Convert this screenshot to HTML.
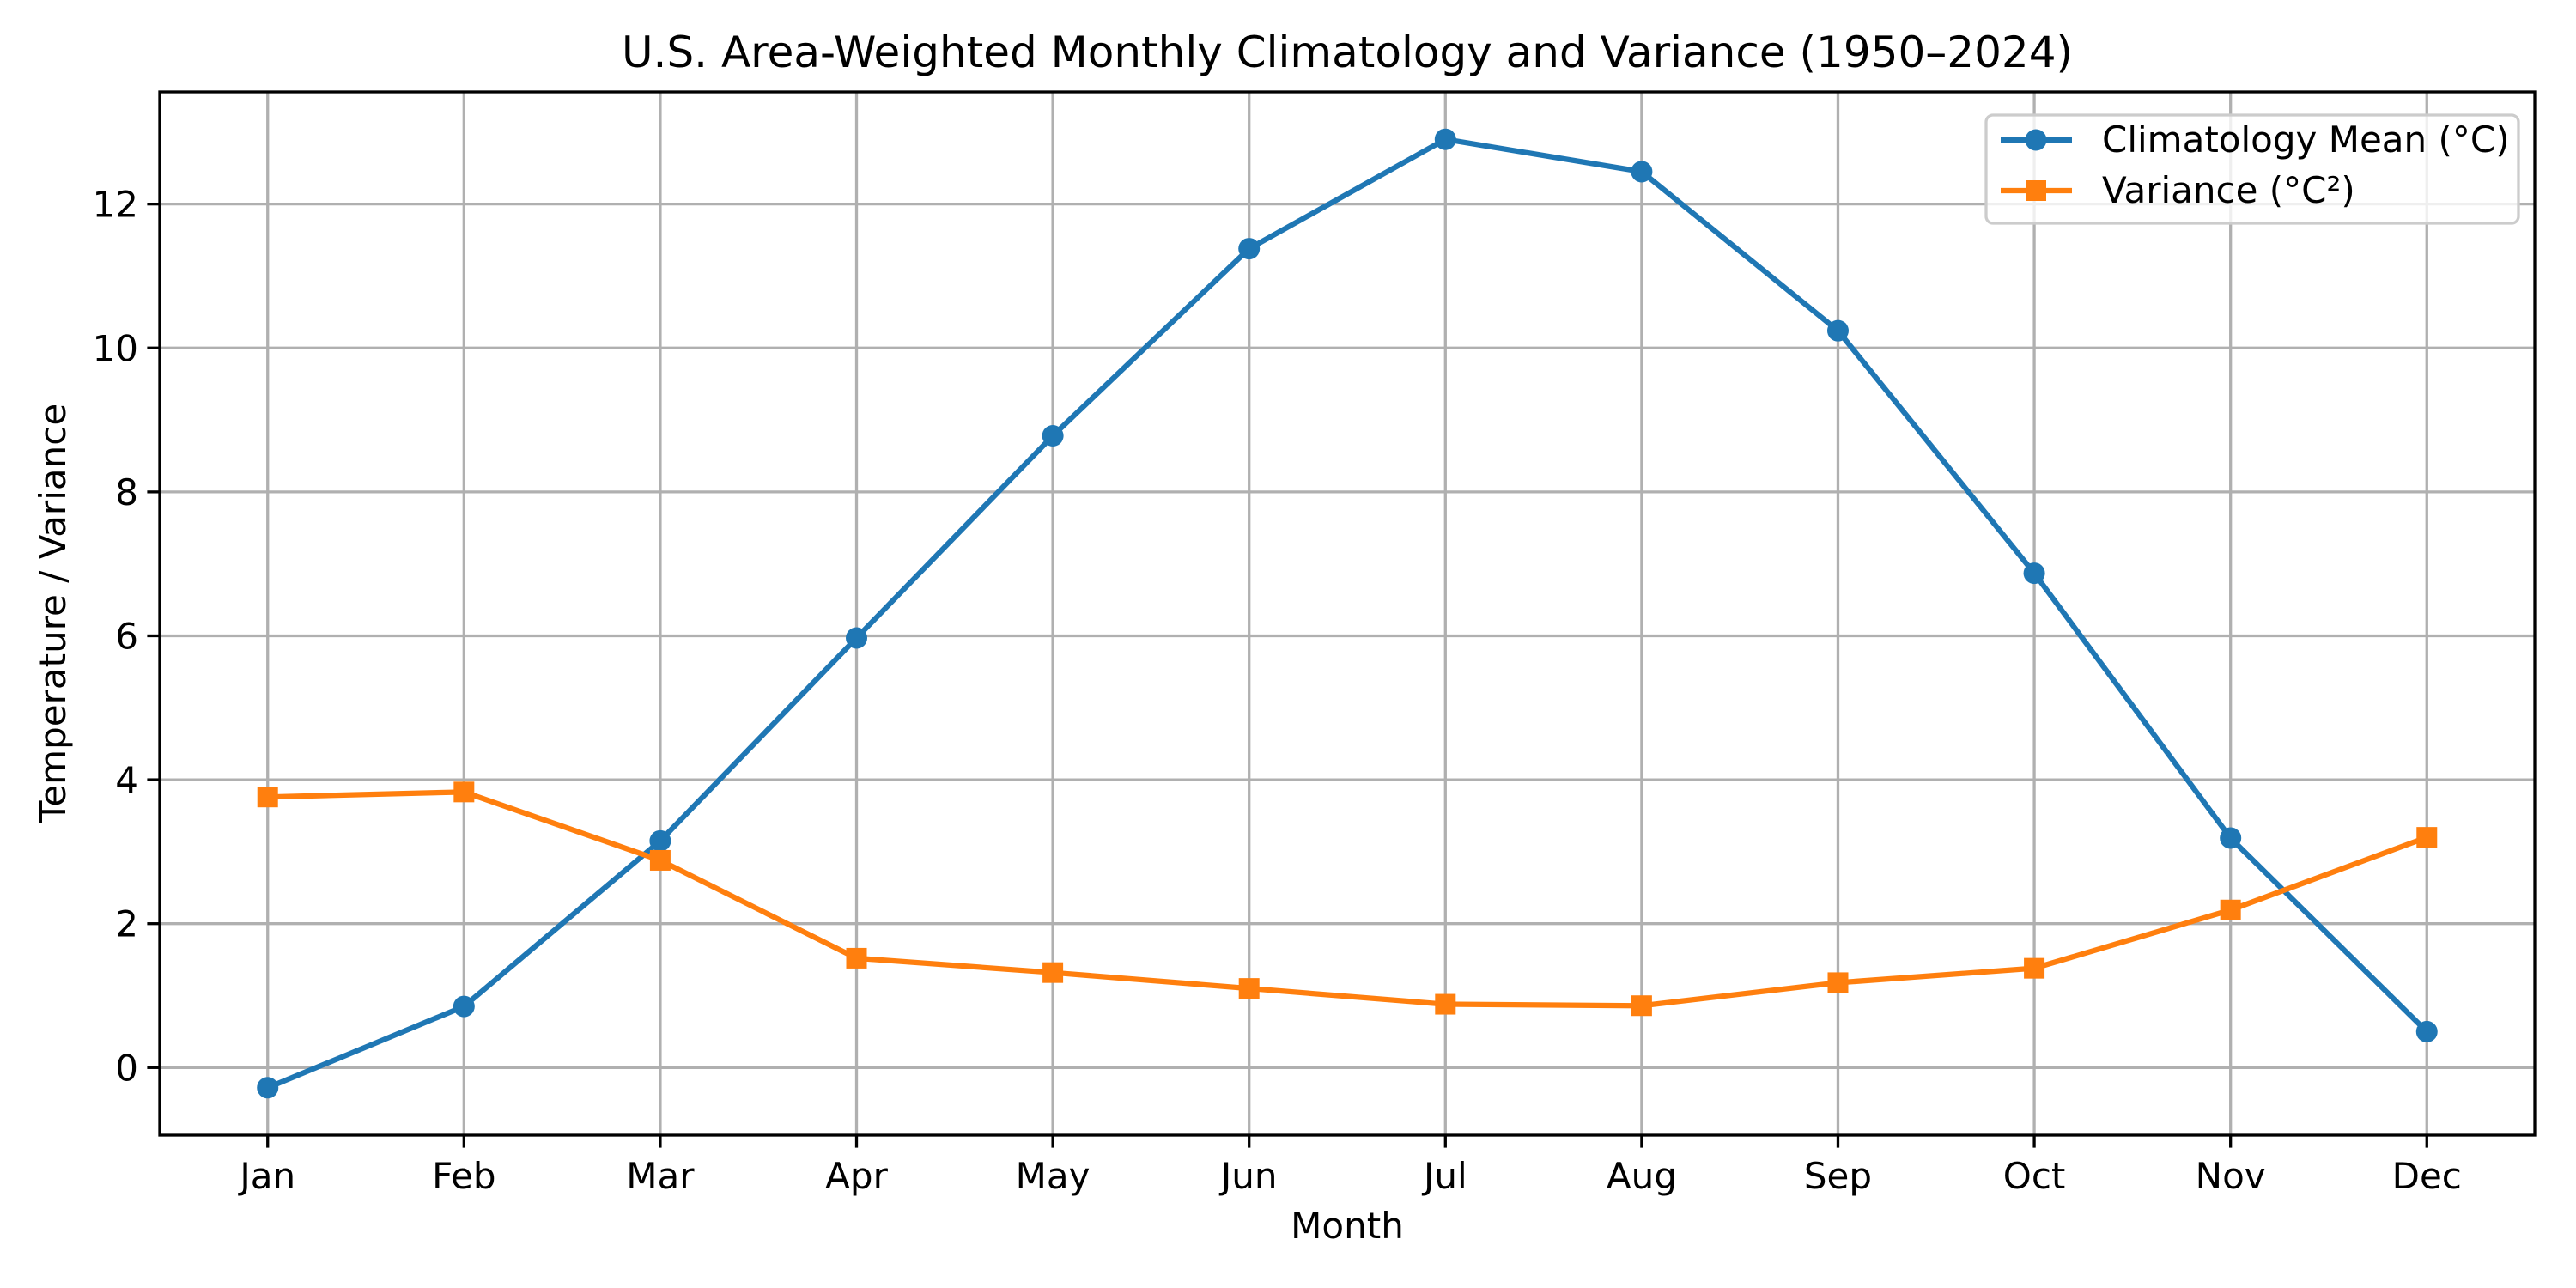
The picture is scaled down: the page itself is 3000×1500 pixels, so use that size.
<!DOCTYPE html>
<html><head><meta charset="utf-8"><style>
html,body{margin:0;padding:0;background:#fff;}
svg{display:block;font-family:"DejaVu Sans","Liberation Sans",sans-serif;}
</style></head><body>
<svg id="chart" width="3000" height="1500" viewBox="0 0 3000 1500" xmlns="http://www.w3.org/2000/svg">
<rect width="3000" height="1500" fill="#fff"/>
<text x="1569" y="78" font-size="50" text-anchor="middle">U.S. Area-Weighted Monthly Climatology and Variance (1950–2024)</text>
<g id="grid"></g>
<g id="series"></g>
<rect x="186" y="107" width="2766" height="1215" fill="none" stroke="#000" stroke-width="3.3"/>
<g id="ticks"></g>
<text x="1569" y="1442" font-size="42" text-anchor="middle">Month</text>
<text transform="translate(76,714) rotate(-90)" font-size="42" text-anchor="middle">Temperature / Variance</text>
<g>
<rect x="2313" y="134" width="620" height="126" rx="8" fill="#fff" fill-opacity="0.8" stroke="#ccc" stroke-width="3.3"/>
<g>
<line x1="2330" y1="163" x2="2413" y2="163" stroke="#1f77b4" stroke-width="6.25"/>
<circle cx="2371" cy="163" r="12.5" fill="#1f77b4"/>
<text x="2448" y="177" font-size="42">Climatology Mean (°C)</text></g>
<g>
<line x1="2330" y1="222" x2="2413" y2="222" stroke="#ff7f0e" stroke-width="6.25"/>
<rect x="2359" y="210" width="24" height="24" fill="#ff7f0e"/>
<text x="2448" y="236" font-size="42">Variance (°C²)</text></g>
</g>
</svg>
<script>
const months=["Jan","Feb","Mar","Apr","May","Jun","Jul","Aug","Sep","Oct","Nov","Dec"];
const meanValues=[-0.28,0.85,3.15,5.97,8.78,11.38,12.9,12.45,10.24,6.87,3.19,0.5];
const varianceValues=[3.76,3.83,2.88,1.52,1.32,1.10,0.88,0.86,1.18,1.38,2.19,3.20];
const yTicks=[0,2,4,6,8,10,12];
const NS="http://www.w3.org/2000/svg";
const L=186,R=2952,T=107,B=1322;
const all=meanValues.concat(varianceValues);
let mn=Math.min(...all),mx=Math.max(...all),pad=(mx-mn)*0.05;
const y0=mn-pad,y1=mx+pad;
const x0=-0.55,x1=months.length-1+0.55;
const sx=i=>L+(i-x0)/(x1-x0)*(R-L);
const sy=v=>B-(v-y0)/(y1-y0)*(B-T);
function mk(tag,attrs,parent){const e=document.createElementNS(NS,tag);for(const k in attrs)e.setAttribute(k,attrs[k]);parent.appendChild(e);return e;}
const grid=document.getElementById('grid'),ticks=document.getElementById('ticks'),series=document.getElementById('series');
months.forEach((m,i)=>{
 const x=sx(i);
 const g=mk('line',{x1:x,x2:x,y1:T,y2:B,stroke:'#b0b0b0','stroke-width':3.3},grid);
 
 
 mk('line',{x1:x,x2:x,y1:B,y2:B+14.6,stroke:'#000','stroke-width':3.3},ticks);
 const t=mk('text',{x:x,y:B+62,'font-size':42,'text-anchor':'middle'},ticks);
 t.textContent=m;
 
 
});
yTicks.forEach(v=>{
 const y=sy(v);
 const g=mk('line',{x1:L,x2:R,y1:y,y2:y,stroke:'#b0b0b0','stroke-width':3.3},grid);
 
 
 mk('line',{x1:L-14.6,x2:L,y1:y,y2:y,stroke:'#000','stroke-width':3.3},ticks);
 const t=mk('text',{x:L-25,y:y+15,'font-size':42,'text-anchor':'end'},ticks);
 t.textContent=v;
 
 
});
function draw(vals,color,square,name){
 const p=mk('polyline',{points:vals.map((v,i)=>sx(i)+','+sy(v)).join(' '),fill:'none',stroke:color,'stroke-width':6.25,'stroke-linejoin':'round'},series);
 
 
 vals.forEach((v,i)=>{
  let e;
  if(square)e=mk('rect',{x:sx(i)-12,y:sy(v)-12,width:24,height:24,fill:color},series);
  else e=mk('circle',{cx:sx(i),cy:sy(v),r:12.5,fill:color},series);
  
  
 });
}
draw(meanValues,'#1f77b4',false,'mean');
draw(varianceValues,'#ff7f0e',true,'variance');
</script>
</body></html>
